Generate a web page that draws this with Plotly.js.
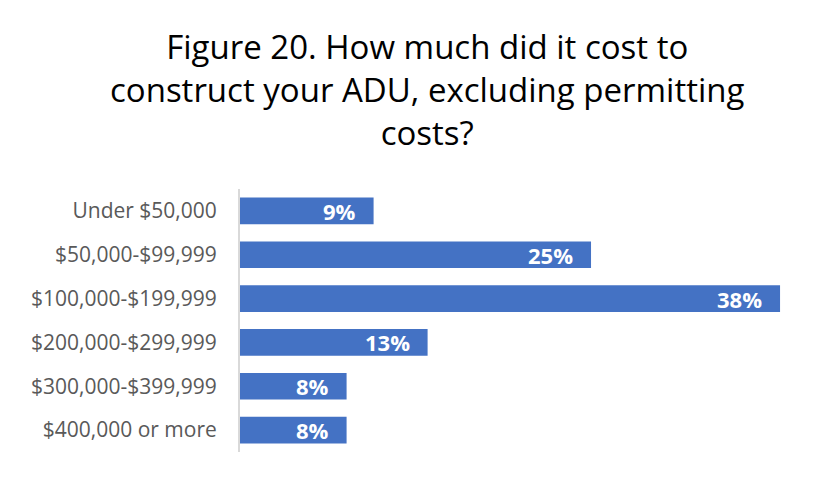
<!DOCTYPE html>
<html><head><meta charset="utf-8">
<script src="https://cdn.plot.ly/plotly-3.0.1.min.js"></script>
<style>body{margin:0;background:#fff}#chart{width:835px;height:480px}</style>
</head><body><div id="chart"></div>
<script>
const categories = ["Under $50,000","$50,000-$99,999","$100,000-$199,999","$200,000-$299,999","$300,000-$399,999","$400,000 or more"];
const values = [9.4, 24.7, 38.0, 13.2, 7.5, 7.5];
const labels = ["9%","25%","38%","13%","8%","8%"];

const FONT = '"Open Sans", Lato, sans-serif';
const trace = {
  type: 'bar', orientation: 'h',
  x: values, y: categories,
  marker: {color: '#4472C4'},
  hoverinfo: 'none'
};
const annotations = categories.map((c, i) => ({
  x: values[i], y: c, xref: 'x', yref: 'y',
  text: '<b>' + labels[i] + '</b>', showarrow: false,
  xanchor: 'right', yanchor: 'middle', xshift: -16,
  font: {family: FONT, size: 22, color: '#ffffff'}
}));
annotations.push({
  xref: 'paper', yref: 'paper', x: 0.34, y: 1.635, xanchor: 'center', yanchor: 'top',
  text: 'Figure 20. How much did it cost to<br>construct your ADU, excluding permitting<br>costs?',
  showarrow: false, align: 'center',
  font: {family: FONT, size: 33, color: '#000000'}
});
const layout = {
  width: 835, height: 480,
  margin: {l: 240, r: 45, t: 189, b: 28},
  paper_bgcolor: '#ffffff', plot_bgcolor: '#ffffff',
  bargap: 0.39,
  showlegend: false,
  annotations: annotations,
  xaxis: {range: [0, 38.7], visible: false, fixedrange: true},
  yaxis: {
    autorange: 'reversed', showgrid: false, zeroline: false,
    showline: true, linecolor: '#d9d9d9', linewidth: 2,
    ticks: '', ticklabelstandoff: 17,
    tickfont: {family: FONT, size: 21, color: '#595959'}
  }
};
Plotly.newPlot('chart', [trace], layout, {displayModeBar: false, staticPlot: true});
</script></body></html>
